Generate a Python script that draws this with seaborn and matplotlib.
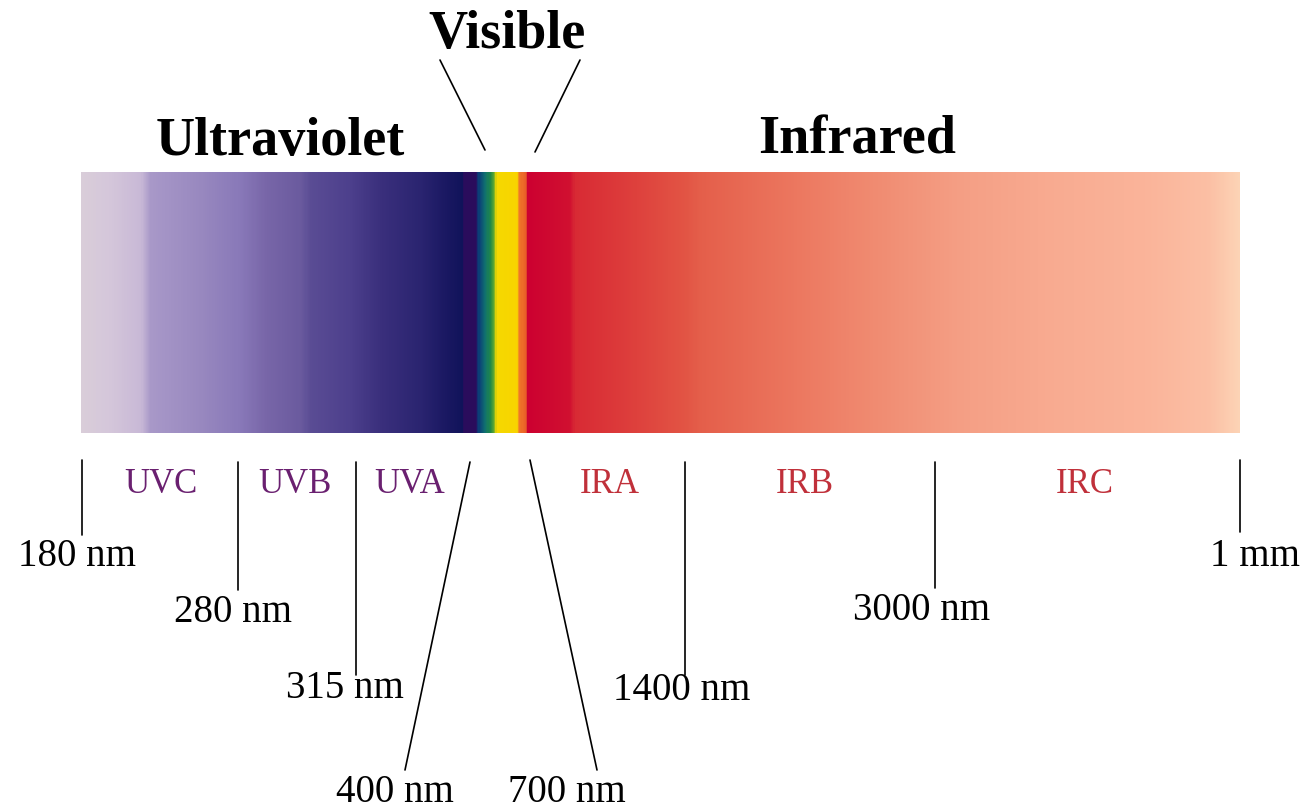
import matplotlib
matplotlib.use("Agg")
import matplotlib.pyplot as plt
import seaborn as sns
import numpy as np
from matplotlib.colors import LinearSegmentedColormap

# Colour stops along the band (pixel x of stop, colour)
stop_x = [81, 110, 140, 150, 200, 240, 265, 300, 310, 350, 380, 420, 445, 462,
          463, 476, 478, 485, 490, 494, 496, 517, 519, 526, 527, 570, 575, 620,
          685, 700, 800, 880, 960, 1050, 1150, 1210, 1240]
stop_colors = ['#d9cdd9', '#d4c6da', '#c8b8d6', '#a898c8', '#9888bf', '#8878b8',
               '#7866a8', '#6a5a9e', '#5a4c94', '#4c3f8c', '#3a2f7c', '#2a2470',
               '#1a1862', '#10135a', '#2a0c5c', '#2a0c5c', '#0a3a78', '#107070',
               '#208848', '#60a830', '#f5d800', '#f8d400', '#f07828', '#e85a28',
               '#cc0030', '#d01030', '#d82a34', '#dc3a3a', '#e25444', '#e45e4a',
               '#ec7860', '#f08c72', '#f49e84', '#f8aa90', '#fab49a', '#fbbfa4',
               '#fcd3b5']

# Wavelength boundary labels
bound_labels = ['180 nm', '280 nm', '315 nm', '400 nm', '700 nm', '1400 nm', '3000 nm', '1 mm']
# Band names
uv_names = ['UVC', 'UVB', 'UVA']
ir_names = ['IRA', 'IRB', 'IRC']
titles = ['Ultraviolet', 'Visible', 'Infrared']

W, H = 1315, 809
sns.set_theme(style='white')
plt.rcParams['font.family'] = ['Liberation Serif', 'DejaVu Serif']
plt.rcParams['text.color'] = 'black'

fig = plt.figure(figsize=(W / 100, H / 100), dpi=100)

# spectrum band as a one-row heatmap
x0, x1, y0, y1 = 81, 1240, 172, 433
band_ax = fig.add_axes([x0 / W, 1 - y1 / H, (x1 - x0) / W, (y1 - y0) / H])
pos = [(x - x0) / (x1 - x0) for x in stop_x]
cmap = LinearSegmentedColormap.from_list('spec', list(zip(pos, stop_colors)), N=1024)
cols = x1 - x0
grid = np.tile(np.arange(cols) / (cols - 1), (2, 1))
sns.heatmap(grid, cmap=cmap, vmin=0, vmax=1, cbar=False, ax=band_ax,
            xticklabels=False, yticklabels=False)
band_ax.set_axis_off()

# overlay axes in pixel coordinates
ax = fig.add_axes([0, 0, 1, 1])
ax.set_xlim(0, W)
ax.set_ylim(H, 0)
ax.axis('off')
ax.patch.set_alpha(0)

lw = 1.2
# boundary lines: (x top, y top, x bottom, y bottom) and label anchor
line_geo = [(82, 460, 82, 535), (238, 462, 238, 590), (356, 462, 356, 675),
            (470, 462, 405, 770), (530, 460, 597, 770), (685, 462, 685, 675),
            (935, 462, 935, 588), (1240, 460, 1240, 532)]
label_pos = [(77, 557), (233, 612), (345, 688), (395, 792), (567, 792),
             (682, 690), (922, 610), (1255, 557)]
for (xa, ya, xb, yb), lab, (lx, ly) in zip(line_geo, bound_labels, label_pos):
    ax.plot([xa, xb], [ya, yb], color='black', lw=lw)
    ax.text(lx, ly, lab, fontsize=28, ha='center', va='center', color='black')

for name, x in zip(uv_names, [161, 295, 410]):
    ax.text(x, 484, name, fontsize=25, ha='center', va='center', color='#6a2070')
for name, x in zip(ir_names, [610, 805, 1085]):
    ax.text(x, 484, name, fontsize=25, ha='center', va='center', color='#c0303a')

# titles
ax.text(280, 142, titles[0], fontsize=39, fontweight='bold', ha='center', va='center', color='black')
ax.text(507, 35, titles[1], fontsize=39, fontweight='bold', ha='center', va='center', color='black')
ax.text(857, 140, titles[2], fontsize=39, fontweight='bold', ha='center', va='center', color='black')
ax.plot([440, 485], [60, 150], color='black', lw=lw)
ax.plot([580, 535], [60, 152], color='black', lw=lw)

fig.savefig('out.png', dpi=100, facecolor='white')
